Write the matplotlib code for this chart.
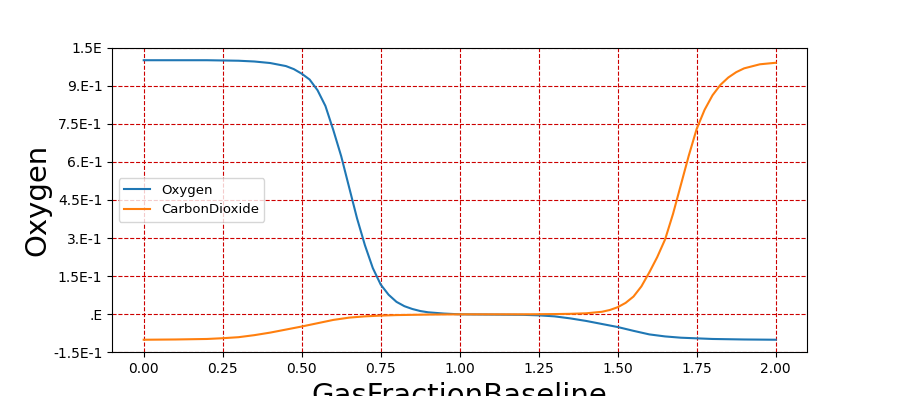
import matplotlib
matplotlib.use("Agg")
import matplotlib.pyplot as plt

oxygen_x = [0, 0.1, 0.2, 0.3, 0.35, 0.4, 0.45, 0.475, 0.5, 0.525, 0.55, 0.575, 0.6, 0.625, 0.65,
            0.675, 0.7, 0.725, 0.75, 0.775, 0.8, 0.825, 0.85, 0.875, 0.9, 0.95, 1.0, 1.1, 1.2, 1.25, 1.3,
            1.35, 1.4, 1.45, 1.5, 1.55, 1.6, 1.65, 1.7, 1.8, 1.9, 2.0]
oxygen_y = [1.0, 1.0, 1.0, 0.998, 0.995, 0.989, 0.977, 0.965, 0.947, 0.924, 0.882, 0.82, 0.725, 0.622, 0.5,
            0.378, 0.272, 0.182, 0.117, 0.077, 0.049, 0.032, 0.021, 0.013, 0.008, 0.003, 0.0, -0.001, -0.002,
            -0.004, -0.008, -0.016, -0.026, -0.038, -0.05, -0.065, -0.079, -0.087, -0.092, -0.097, -0.099, -0.1]

co2_x = [0, 0.1, 0.2, 0.25, 0.3, 0.35, 0.4, 0.45, 0.5, 0.55, 0.6, 0.65, 0.7, 0.75, 0.8, 0.9,
         1.0, 1.1, 1.2, 1.3, 1.35, 1.4, 1.45, 1.475, 1.5, 1.525, 1.55, 1.575, 1.6, 1.625, 1.65, 1.675,
         1.7, 1.725, 1.75, 1.775, 1.8, 1.825, 1.85, 1.875, 1.9, 1.95, 2.0]
co2_y = [-0.1, -0.099, -0.097, -0.094, -0.09, -0.082, -0.072, -0.06, -0.048, -0.035, -0.022, -0.013,
         -0.008, -0.005, -0.003, -0.001, 0.0, 0.0, 0.0, 0.001, 0.002, 0.004, 0.01, 0.017, 0.028, 0.045, 0.07,
         0.11, 0.165, 0.225, 0.295, 0.395, 0.51, 0.625, 0.73, 0.805, 0.862, 0.903, 0.932, 0.953, 0.968,
         0.984, 0.99]

ytick_vals = [-0.15, 0.0, 0.15, 0.3, 0.45, 0.6, 0.75, 0.9, 1.05]
ytick_labels = ['-1.5E-1', '.E', '1.5E-1', '3.E-1', '4.5E-1', '6.E-1', '7.5E-1', '9.E-1', '1.5E']
xtick_vals = [0.0, 0.25, 0.5, 0.75, 1.0, 1.25, 1.5, 1.75, 2.0]

fig, ax = plt.subplots(figsize=(8.97, 3.96), dpi=100)
ax.plot(oxygen_x, oxygen_y, label='Oxygen', color='#1f77b4', lw=1.5)
ax.plot(co2_x, co2_y, label='CarbonDioxide', color='#ff7f0e', lw=1.5)
ax.set_ylim(-0.15, 1.05)
ax.set_yticks(ytick_vals)
ax.set_yticklabels(ytick_labels)
ax.set_xticks(xtick_vals)
ax.grid(True, color='#cc0000', linestyle='--', linewidth=0.8)
ax.set_xlabel('GasFractionBaseline', fontsize=21)
ax.set_ylabel('Oxygen', fontsize=21, labelpad=1)
ax.legend(loc='center left', fontsize=9.5)
fig.savefig('out.png', dpi=100)
